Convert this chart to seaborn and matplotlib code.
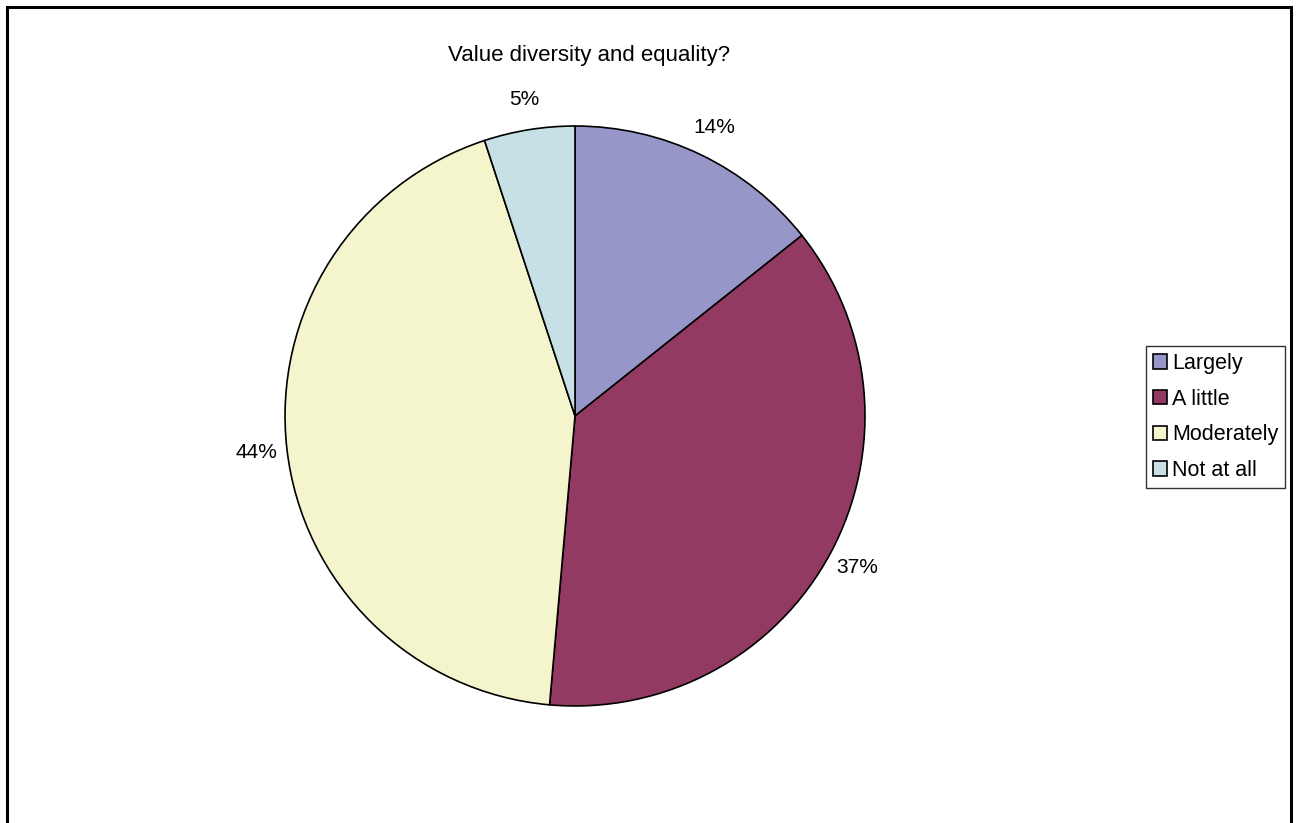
import matplotlib
matplotlib.use("Agg")
import matplotlib.pyplot as plt
import seaborn as sns
from matplotlib.patches import Rectangle

# data
categories = ["Largely", "A little", "Moderately", "Not at all"]
shares = [14.3, 37.1, 43.55, 5.05]
colors = ["#9696C8", "#933A63", "#F5F5CD", "#C6E0E6"]

sns.set_theme(style="white")
plt.rcParams["font.family"] = ["Liberation Sans", "DejaVu Sans"]
plt.rcParams["text.color"] = "black"

fig = plt.figure(figsize=(12.98, 8.23), dpi=100)
ax = fig.add_axes([0.2196, 0.1422, 0.4468, 0.7047])

wedges, texts, autotexts = ax.pie(
    shares,
    colors=colors,
    startangle=90,
    counterclock=False,
    autopct="%.0f%%",
    pctdistance=1.105,
    wedgeprops=dict(edgecolor="black", linewidth=1.2),
    textprops=dict(fontsize=15, color="black"),
)
ax.set_aspect("equal")
ax.set_xlim(-1, 1)
ax.set_ylim(-1, 1)

fig.text(0.4538, 1 - 55 / 823, "Value diversity and equality?",
         ha="center", va="center", fontsize=16, color="black")

leg = fig.legend(wedges, categories, loc="center left",
                 bbox_to_anchor=(1146 / 1298, 1 - 417 / 823),
                 fontsize=15.5, frameon=True, fancybox=False,
                 handlelength=0.65, handleheight=0.65, handletextpad=0.25,
                 labelspacing=0.68, borderpad=0.32, borderaxespad=0)
for t in leg.get_texts():
    t.set_color("black")
leg.get_frame().set_edgecolor("black")
leg.get_frame().set_linewidth(1.0)

# outer chart border
fig.patches.append(Rectangle((7 / 1298, -0.05), (1291 - 7) / 1298, 1 - 7 / 823 + 0.05,
                             transform=fig.transFigure, fill=False,
                             edgecolor="black", linewidth=2.2))

fig.savefig("out.png", dpi=100)
